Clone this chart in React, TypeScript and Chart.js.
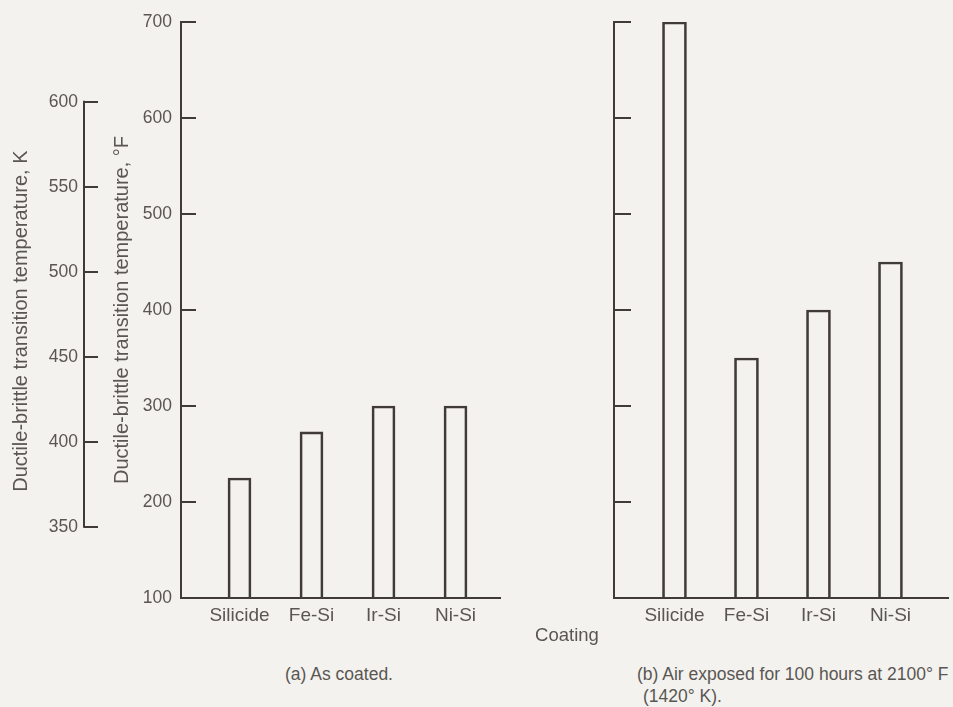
import React, { useEffect, useRef } from 'react';
import { Chart, registerables } from 'chart.js';

Chart.register(...registerables);

// ---- data ----
const CATEGORIES = ['Silicide', 'Fe-Si', 'Ir-Si', 'Ni-Si'];
const AS_COATED_F = [225, 273, 300, 300];
const AIR_EXPOSED_F = [700, 350, 400, 450];
const F_TICKS = [100, 200, 300, 400, 500, 600, 700];
const K_TICKS = [350, 400, 450, 500, 550, 600];
const F_MIN = 100;
const F_MAX = 700;
const K_MIN = 308.1;
const K_MAX = 646.9;

const TITLE_K = 'Ductile-brittle transition temperature, K\u00a0\u00a0\u00a0\u00a0';
const TITLE_F = 'Ductile-brittle transition temperature, \u00b0F';

// ---- styles ----
const LINE = '#403b38';
const TEXT = '#5a5652';
const BG = '#f3f2ee';
const SANS = "'Liberation Sans', Arial, sans-serif";
const TICK_FONT = { family: SANS, size: 17.5 };
const LABEL_FONT = { family: SANS, size: 19 };
const TITLE_FONT = { family: SANS, size: 20, lineHeight: 1.2 };

function categoryAxis(min: number, max: number) {
  return {
    type: 'linear',
    position: 'bottom',
    offset: false,
    min,
    max,
    grid: { display: false, offset: false },
    border: { display: true, color: LINE, width: 2 },
    afterBuildTicks: (s: any) => {
      s.ticks = CATEGORIES.map((_, i) => ({ value: i }));
    },
    afterFit: (s: any) => {
      s.height = 42;
      s.paddingLeft = 0;
      s.paddingRight = 0;
    },
    ticks: {
      color: TEXT,
      font: LABEL_FONT,
      padding: -2,
      autoSkip: false,
      maxRotation: 0,
      callback: (v: any) => CATEGORIES[v] ?? '',
    },
  };
}

const kAxisLine = {
  id: 'kAxisLine',
  afterDraw(chart: any) {
    const s = chart.scales.yK;
    if (!s) return;
    const ctx = chart.ctx;
    const yTop = s.getPixelForValue(K_TICKS[K_TICKS.length - 1]);
    const yBot = s.getPixelForValue(K_TICKS[0]);
    ctx.save();
    ctx.strokeStyle = LINE;
    ctx.lineWidth = 2;
    ctx.beginPath();
    ctx.moveTo(s.right, yTop - 1);
    ctx.lineTo(s.right, yBot + 1);
    ctx.stroke();
    ctx.restore();
  },
};

function barDataset(values: number[], thickness: number) {
  return {
    data: values.map((y, i) => ({ x: i, y })),
    xAxisID: 'x',
    yAxisID: 'yF',
    backgroundColor: 'rgba(0,0,0,0)',
    borderColor: LINE,
    borderWidth: 2,
    barThickness: thickness,
  };
}

const noVPadding = (width: number) => (s: any) => {
  s.width = width;
  s.paddingTop = 0;
  s.paddingBottom = 0;
};

function PanelA() {
  const ref = useRef<HTMLCanvasElement>(null);
  useEffect(() => {
    const chart = new Chart(ref.current as HTMLCanvasElement, {
      type: 'bar',
      data: { datasets: [barDataset(AS_COATED_F, 23) as any] },
      options: {
        animation: false,
        responsive: false,
        events: [],
        layout: { padding: { top: 22, left: 0, right: 20, bottom: 0 } },
        plugins: { legend: { display: false }, tooltip: { enabled: false } },
        scales: {
          x: categoryAxis(-0.8125, 3.618) as any,
          yF: {
            type: 'linear',
            position: 'left',
            weight: 0,
            min: F_MIN,
            max: F_MAX,
            afterBuildTicks: (s: any) => {
              s.ticks = F_TICKS.map((v) => ({ value: v }));
            },
            afterFit: noVPadding(97),
            grid: { drawOnChartArea: false, drawTicks: true, tickLength: -15, color: LINE, lineWidth: 2 },
            border: { display: true, color: LINE, width: 2 },
            ticks: { color: TEXT, font: TICK_FONT, padding: 24 },
            title: { display: true, text: TITLE_F, color: TEXT, font: TITLE_FONT, padding: { top: 26, bottom: 0 } },
          } as any,
          yK: {
            type: 'linear',
            position: 'left',
            weight: 1,
            min: K_MIN,
            max: K_MAX,
            afterBuildTicks: (s: any) => {
              s.ticks = K_TICKS.map((v) => ({ value: v }));
            },
            afterFit: noVPadding(84),
            grid: { drawOnChartArea: false, drawTicks: true, tickLength: -14, color: LINE, lineWidth: 2 },
            border: { display: false },
            ticks: { color: TEXT, font: TICK_FONT, padding: 20 },
            title: { display: true, text: TITLE_K, color: TEXT, font: TITLE_FONT, padding: { top: 9, bottom: 0 } },
          } as any,
        },
      },
      plugins: [kAxisLine],
    });
    return () => chart.destroy();
  }, []);
  return (
    <canvas
      ref={ref}
      width={520}
      height={640}
      style={{ position: 'absolute', left: 0, top: 0, width: 520, height: 640 }}
    />
  );
}

function PanelB() {
  const ref = useRef<HTMLCanvasElement>(null);
  useEffect(() => {
    const chart = new Chart(ref.current as HTMLCanvasElement, {
      type: 'bar',
      data: { datasets: [barDataset(AIR_EXPOSED_F, 24) as any] },
      options: {
        animation: false,
        responsive: false,
        events: [],
        layout: { padding: { top: 22, left: 0, right: 5, bottom: 0 } },
        plugins: { legend: { display: false }, tooltip: { enabled: false } },
        scales: {
          x: categoryAxis(-0.84, 3.799) as any,
          yF: {
            type: 'linear',
            position: 'left',
            min: F_MIN,
            max: F_MAX,
            afterBuildTicks: (s: any) => {
              s.ticks = F_TICKS.map((v) => ({ value: v }));
            },
            afterFit: noVPadding(94),
            grid: { drawOnChartArea: false, drawTicks: true, tickLength: -17, color: LINE, lineWidth: 2 },
            border: { display: true, color: LINE, width: 2 },
            ticks: { display: false },
          } as any,
        },
      },
    });
    return () => chart.destroy();
  }, []);
  return (
    <canvas
      ref={ref}
      width={433}
      height={640}
      style={{ position: 'absolute', left: 520, top: 0, width: 433, height: 640 }}
    />
  );
}

const textStyle = (size: number): React.CSSProperties => ({
  position: 'absolute',
  fontFamily: SANS,
  fontSize: size,
  lineHeight: `${size}px`,
  color: TEXT,
  whiteSpace: 'nowrap',
});

export default function App() {
  return (
    <div
      style={{
        position: 'absolute',
        left: 0,
        top: 0,
        width: 953,
        height: 707,
        background: BG,
        overflow: 'hidden',
      }}
    >
      <PanelA />
      <PanelB />
      <div style={{ ...textStyle(18.5), left: 567, top: 626, transform: 'translateX(-50%)' }}>Coating</div>
      <div style={{ ...textStyle(17.5), left: 285, top: 666 }}>(a) As coated.</div>
      <div style={{ ...textStyle(17.5), left: 637, top: 666 }}>(b) Air exposed for 100 hours at 2100° F</div>
      <div style={{ ...textStyle(17.5), left: 643, top: 688 }}>(1420° K).</div>
    </div>
  );
}
